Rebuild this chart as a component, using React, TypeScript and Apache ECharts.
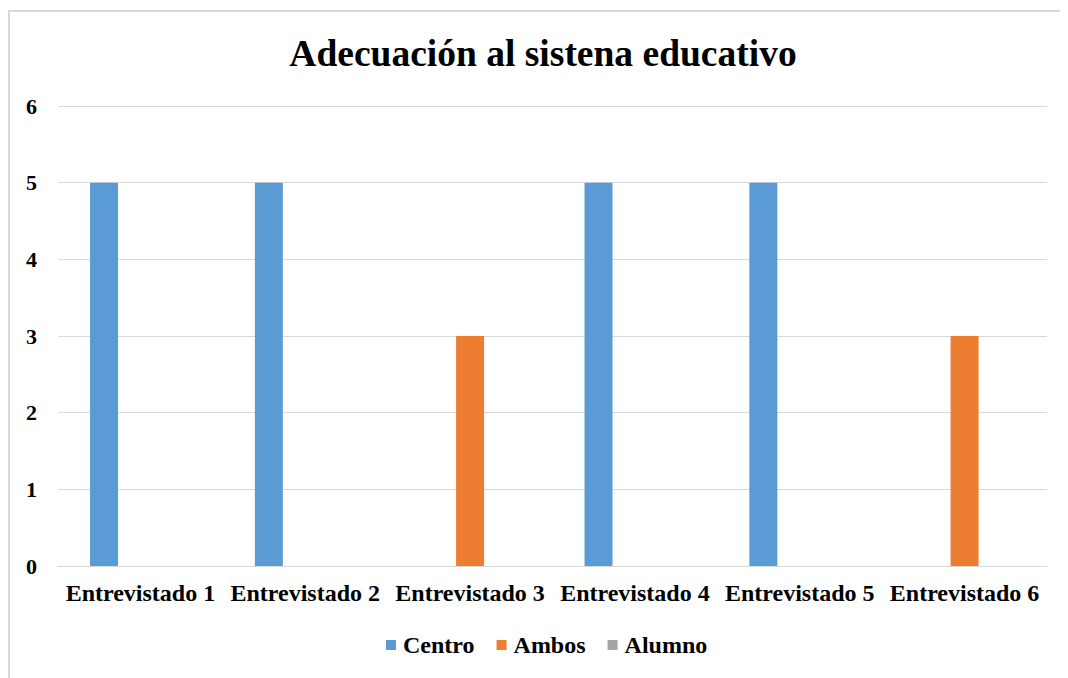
import React, { useEffect, useRef } from "react";
import * as echarts from "echarts";

const categories = ["Entrevistado 1", "Entrevistado 2", "Entrevistado 3", "Entrevistado 4", "Entrevistado 5", "Entrevistado 6"];
const centro = [5, 5, 0, 5, 5, 0];
const ambos = [0, 0, 3, 0, 0, 3];
const alumno = [0, 0, 0, 0, 0, 0];
const titleText = "Adecuación al sistena educativo";

const FONT = "'Liberation Serif', 'Times New Roman', serif";

export default function App() {
  const ref = useRef<HTMLDivElement>(null);
  useEffect(() => {
    if (!ref.current) return;
    document.body.style.overflow = "hidden";
    const chart = echarts.init(ref.current, undefined, { renderer: "svg" });
    const textStyle = { fontFamily: FONT, fontWeight: "bold" as const, fontSize: 24, color: "#000" };
    chart.setOption({
      animation: false,
      backgroundColor: "#fff",
      title: {
        text: titleText,
        left: "center",
        top: 21,
        textStyle: { fontFamily: FONT, fontWeight: "bold", fontSize: 37.5, color: "#000" },
      },
      graphic: [
        {
          type: "rect",
          shape: { x: 1, y: 3, width: 1200, height: 1000 },
          style: { fill: "none", stroke: "#d9d9d9", lineWidth: 2 },
          silent: true,
        },
      ],
      legend: {
        top: 620,
        left: 373,
        itemWidth: 10,
        itemHeight: 10,
        itemGap: 22,
        icon: "rect",
        textStyle: { ...textStyle, padding: [0, 0, 0, 2] },
        data: ["Centro", "Ambos", "Alumno"],
      },
      grid: { left: 50, right: 31, top: 98, bottom: 112 },
      xAxis: {
        type: "category",
        data: categories,
        axisLine: { lineStyle: { color: "#d9d9d9", width: 1 } },
        axisTick: { show: false },
        axisLabel: { ...textStyle, margin: 15, interval: 0 },
      },
      yAxis: {
        type: "value",
        min: 0,
        max: 6,
        interval: 1,
        axisLine: { show: false },
        axisTick: { show: false },
        splitLine: { lineStyle: { color: "#d9d9d9", width: 1 } },
        axisLabel: { ...textStyle, fontSize: 22, margin: 21 },
      },
      series: [
        { name: "Centro", type: "bar", data: centro, barWidth: 28, barGap: "30%", itemStyle: { color: "#5B9BD5" } },
        { name: "Ambos", type: "bar", data: ambos, barWidth: 28, barGap: "30%", itemStyle: { color: "#ED7D31" } },
        { name: "Alumno", type: "bar", data: alumno, barWidth: 28, barGap: "30%", itemStyle: { color: "#A5A5A5" } },
      ],
    });
    return () => chart.dispose();
  }, []);
  return <div ref={ref} style={{ width: 1070, height: 670 }} />;
}
